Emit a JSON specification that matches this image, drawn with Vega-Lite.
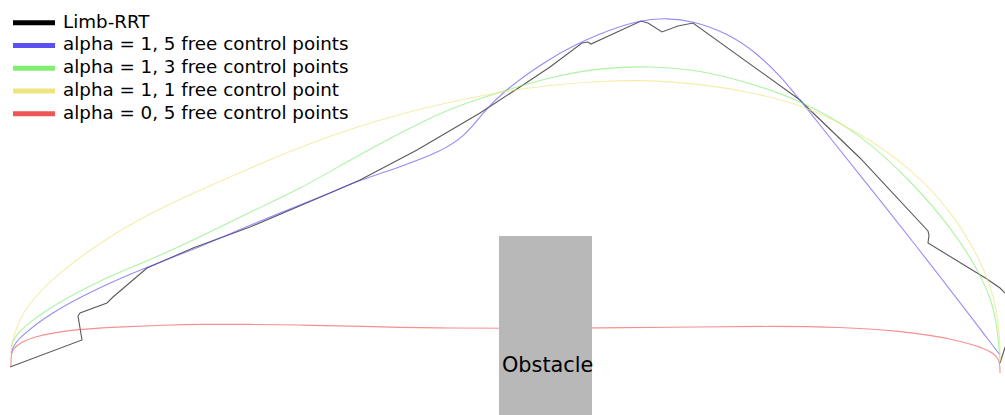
{
  "$schema": "https://vega.github.io/schema/vega-lite/v6.json",
  "width": 1005,
  "height": 415,
  "padding": 0,
  "autosize": {"type": "fit", "contains": "padding"},
  "background": "white",
  "config": {"view": {"stroke": null}},
  "datasets": {
    "rrt": [
      {"s": "Limb-RRT", "i": 0, "x": 10, "y": 367},
      {"s": "Limb-RRT", "i": 1, "x": 82, "y": 340},
      {"s": "Limb-RRT", "i": 2, "x": 78, "y": 316},
      {"s": "Limb-RRT", "i": 3, "x": 80, "y": 313},
      {"s": "Limb-RRT", "i": 4, "x": 107, "y": 303},
      {"s": "Limb-RRT", "i": 5, "x": 113, "y": 297},
      {"s": "Limb-RRT", "i": 6, "x": 147, "y": 268},
      {"s": "Limb-RRT", "i": 7, "x": 193, "y": 248},
      {"s": "Limb-RRT", "i": 8, "x": 250, "y": 227},
      {"s": "Limb-RRT", "i": 9, "x": 330, "y": 193},
      {"s": "Limb-RRT", "i": 10, "x": 360, "y": 180},
      {"s": "Limb-RRT", "i": 11, "x": 417, "y": 150},
      {"s": "Limb-RRT", "i": 12, "x": 480, "y": 113},
      {"s": "Limb-RRT", "i": 13, "x": 523, "y": 85},
      {"s": "Limb-RRT", "i": 14, "x": 550, "y": 67},
      {"s": "Limb-RRT", "i": 15, "x": 582, "y": 43},
      {"s": "Limb-RRT", "i": 16, "x": 588, "y": 42},
      {"s": "Limb-RRT", "i": 17, "x": 591, "y": 44},
      {"s": "Limb-RRT", "i": 18, "x": 641, "y": 21},
      {"s": "Limb-RRT", "i": 19, "x": 648, "y": 23},
      {"s": "Limb-RRT", "i": 20, "x": 662, "y": 32},
      {"s": "Limb-RRT", "i": 21, "x": 678, "y": 26},
      {"s": "Limb-RRT", "i": 22, "x": 693, "y": 23},
      {"s": "Limb-RRT", "i": 23, "x": 800, "y": 100},
      {"s": "Limb-RRT", "i": 24, "x": 810, "y": 110},
      {"s": "Limb-RRT", "i": 25, "x": 860, "y": 158},
      {"s": "Limb-RRT", "i": 26, "x": 928, "y": 231},
      {"s": "Limb-RRT", "i": 27, "x": 929, "y": 235},
      {"s": "Limb-RRT", "i": 28, "x": 928, "y": 243},
      {"s": "Limb-RRT", "i": 29, "x": 987, "y": 279},
      {"s": "Limb-RRT", "i": 30, "x": 1000, "y": 288},
      {"s": "Limb-RRT", "i": 31, "x": 1014, "y": 302},
      {"s": "Limb-RRT", "i": 32, "x": 1014, "y": 320},
      {"s": "Limb-RRT", "i": 33, "x": 1000, "y": 363}
    ],
    "curves": [
      {"s": "alpha = 1, 5 free control points", "i": 0, "x": 11, "y": 353},
      {"s": "alpha = 1, 5 free control points", "i": 1, "x": 14, "y": 345},
      {"s": "alpha = 1, 5 free control points", "i": 2, "x": 20, "y": 337},
      {"s": "alpha = 1, 5 free control points", "i": 3, "x": 50, "y": 313},
      {"s": "alpha = 1, 5 free control points", "i": 4, "x": 100, "y": 287},
      {"s": "alpha = 1, 5 free control points", "i": 5, "x": 147, "y": 267},
      {"s": "alpha = 1, 5 free control points", "i": 6, "x": 200, "y": 247},
      {"s": "alpha = 1, 5 free control points", "i": 7, "x": 250, "y": 225},
      {"s": "alpha = 1, 5 free control points", "i": 8, "x": 330, "y": 193},
      {"s": "alpha = 1, 5 free control points", "i": 9, "x": 360, "y": 180},
      {"s": "alpha = 1, 5 free control points", "i": 10, "x": 400, "y": 167},
      {"s": "alpha = 1, 5 free control points", "i": 11, "x": 440, "y": 152},
      {"s": "alpha = 1, 5 free control points", "i": 12, "x": 465, "y": 136},
      {"s": "alpha = 1, 5 free control points", "i": 13, "x": 483, "y": 113},
      {"s": "alpha = 1, 5 free control points", "i": 14, "x": 500, "y": 94},
      {"s": "alpha = 1, 5 free control points", "i": 15, "x": 550, "y": 57},
      {"s": "alpha = 1, 5 free control points", "i": 16, "x": 600, "y": 33},
      {"s": "alpha = 1, 5 free control points", "i": 17, "x": 640, "y": 20},
      {"s": "alpha = 1, 5 free control points", "i": 18, "x": 667, "y": 18},
      {"s": "alpha = 1, 5 free control points", "i": 19, "x": 693, "y": 21},
      {"s": "alpha = 1, 5 free control points", "i": 20, "x": 727, "y": 33},
      {"s": "alpha = 1, 5 free control points", "i": 21, "x": 757, "y": 53},
      {"s": "alpha = 1, 5 free control points", "i": 22, "x": 783, "y": 79},
      {"s": "alpha = 1, 5 free control points", "i": 23, "x": 800, "y": 100},
      {"s": "alpha = 1, 5 free control points", "i": 24, "x": 920, "y": 250},
      {"s": "alpha = 1, 5 free control points", "i": 25, "x": 1000, "y": 355},

      {"s": "alpha = 1, 3 free control points", "i": 0, "x": 11, "y": 347},
      {"s": "alpha = 1, 3 free control points", "i": 1, "x": 14, "y": 339},
      {"s": "alpha = 1, 3 free control points", "i": 2, "x": 20, "y": 330},
      {"s": "alpha = 1, 3 free control points", "i": 3, "x": 50, "y": 307},
      {"s": "alpha = 1, 3 free control points", "i": 4, "x": 100, "y": 280},
      {"s": "alpha = 1, 3 free control points", "i": 5, "x": 150, "y": 260},
      {"s": "alpha = 1, 3 free control points", "i": 6, "x": 200, "y": 237},
      {"s": "alpha = 1, 3 free control points", "i": 7, "x": 250, "y": 212},
      {"s": "alpha = 1, 3 free control points", "i": 8, "x": 300, "y": 189},
      {"s": "alpha = 1, 3 free control points", "i": 9, "x": 350, "y": 160},
      {"s": "alpha = 1, 3 free control points", "i": 10, "x": 400, "y": 133},
      {"s": "alpha = 1, 3 free control points", "i": 11, "x": 450, "y": 108},
      {"s": "alpha = 1, 3 free control points", "i": 12, "x": 500, "y": 92},
      {"s": "alpha = 1, 3 free control points", "i": 13, "x": 550, "y": 77},
      {"s": "alpha = 1, 3 free control points", "i": 14, "x": 600, "y": 68},
      {"s": "alpha = 1, 3 free control points", "i": 15, "x": 650, "y": 66},
      {"s": "alpha = 1, 3 free control points", "i": 16, "x": 700, "y": 70},
      {"s": "alpha = 1, 3 free control points", "i": 17, "x": 750, "y": 83},
      {"s": "alpha = 1, 3 free control points", "i": 18, "x": 800, "y": 100},
      {"s": "alpha = 1, 3 free control points", "i": 19, "x": 860, "y": 133},
      {"s": "alpha = 1, 3 free control points", "i": 20, "x": 913, "y": 183},
      {"s": "alpha = 1, 3 free control points", "i": 21, "x": 953, "y": 230},
      {"s": "alpha = 1, 3 free control points", "i": 22, "x": 980, "y": 273},
      {"s": "alpha = 1, 3 free control points", "i": 23, "x": 994, "y": 307},
      {"s": "alpha = 1, 3 free control points", "i": 24, "x": 998, "y": 335},
      {"s": "alpha = 1, 3 free control points", "i": 25, "x": 1000, "y": 360},

      {"s": "alpha = 1, 1 free control point", "i": 0, "x": 11, "y": 353},
      {"s": "alpha = 1, 1 free control point", "i": 1, "x": 12, "y": 345},
      {"s": "alpha = 1, 1 free control point", "i": 2, "x": 14, "y": 335},
      {"s": "alpha = 1, 1 free control point", "i": 3, "x": 20, "y": 319},
      {"s": "alpha = 1, 1 free control point", "i": 4, "x": 27, "y": 307},
      {"s": "alpha = 1, 1 free control point", "i": 5, "x": 50, "y": 280},
      {"s": "alpha = 1, 1 free control point", "i": 6, "x": 100, "y": 242},
      {"s": "alpha = 1, 1 free control point", "i": 7, "x": 150, "y": 213},
      {"s": "alpha = 1, 1 free control point", "i": 8, "x": 200, "y": 190},
      {"s": "alpha = 1, 1 free control point", "i": 9, "x": 250, "y": 168},
      {"s": "alpha = 1, 1 free control point", "i": 10, "x": 300, "y": 147},
      {"s": "alpha = 1, 1 free control point", "i": 11, "x": 350, "y": 129},
      {"s": "alpha = 1, 1 free control point", "i": 12, "x": 400, "y": 114},
      {"s": "alpha = 1, 1 free control point", "i": 13, "x": 450, "y": 102},
      {"s": "alpha = 1, 1 free control point", "i": 14, "x": 500, "y": 92},
      {"s": "alpha = 1, 1 free control point", "i": 15, "x": 550, "y": 85},
      {"s": "alpha = 1, 1 free control point", "i": 16, "x": 600, "y": 81},
      {"s": "alpha = 1, 1 free control point", "i": 17, "x": 650, "y": 80},
      {"s": "alpha = 1, 1 free control point", "i": 18, "x": 700, "y": 84},
      {"s": "alpha = 1, 1 free control point", "i": 19, "x": 750, "y": 92},
      {"s": "alpha = 1, 1 free control point", "i": 20, "x": 800, "y": 104},
      {"s": "alpha = 1, 1 free control point", "i": 21, "x": 860, "y": 132},
      {"s": "alpha = 1, 1 free control point", "i": 22, "x": 913, "y": 170},
      {"s": "alpha = 1, 1 free control point", "i": 23, "x": 953, "y": 213},
      {"s": "alpha = 1, 1 free control point", "i": 24, "x": 980, "y": 260},
      {"s": "alpha = 1, 1 free control point", "i": 25, "x": 990, "y": 285},
      {"s": "alpha = 1, 1 free control point", "i": 26, "x": 997, "y": 310},
      {"s": "alpha = 1, 1 free control point", "i": 27, "x": 1000, "y": 340},
      {"s": "alpha = 1, 1 free control point", "i": 28, "x": 1000, "y": 362},

      {"s": "alpha = 0, 5 free control points", "i": 0, "x": 11, "y": 367},
      {"s": "alpha = 0, 5 free control points", "i": 1, "x": 11, "y": 355},
      {"s": "alpha = 0, 5 free control points", "i": 2, "x": 13, "y": 349},
      {"s": "alpha = 0, 5 free control points", "i": 3, "x": 20, "y": 343},
      {"s": "alpha = 0, 5 free control points", "i": 4, "x": 33, "y": 337},
      {"s": "alpha = 0, 5 free control points", "i": 5, "x": 67, "y": 330},
      {"s": "alpha = 0, 5 free control points", "i": 6, "x": 117, "y": 327},
      {"s": "alpha = 0, 5 free control points", "i": 7, "x": 167, "y": 325},
      {"s": "alpha = 0, 5 free control points", "i": 8, "x": 200, "y": 324.3},
      {"s": "alpha = 0, 5 free control points", "i": 9, "x": 250, "y": 324.3},
      {"s": "alpha = 0, 5 free control points", "i": 10, "x": 300, "y": 325},
      {"s": "alpha = 0, 5 free control points", "i": 11, "x": 350, "y": 326},
      {"s": "alpha = 0, 5 free control points", "i": 12, "x": 400, "y": 327.5},
      {"s": "alpha = 0, 5 free control points", "i": 13, "x": 450, "y": 328},
      {"s": "alpha = 0, 5 free control points", "i": 14, "x": 500, "y": 328.3},
      {"s": "alpha = 0, 5 free control points", "i": 15, "x": 600, "y": 328},
      {"s": "alpha = 0, 5 free control points", "i": 16, "x": 700, "y": 327},
      {"s": "alpha = 0, 5 free control points", "i": 17, "x": 775, "y": 326},
      {"s": "alpha = 0, 5 free control points", "i": 18, "x": 840, "y": 327},
      {"s": "alpha = 0, 5 free control points", "i": 19, "x": 900, "y": 331},
      {"s": "alpha = 0, 5 free control points", "i": 20, "x": 934, "y": 336},
      {"s": "alpha = 0, 5 free control points", "i": 21, "x": 950, "y": 339},
      {"s": "alpha = 0, 5 free control points", "i": 22, "x": 970, "y": 344},
      {"s": "alpha = 0, 5 free control points", "i": 23, "x": 983, "y": 348},
      {"s": "alpha = 0, 5 free control points", "i": 24, "x": 993, "y": 353},
      {"s": "alpha = 0, 5 free control points", "i": 25, "x": 998, "y": 358},
      {"s": "alpha = 0, 5 free control points", "i": 26, "x": 1000, "y": 365},
      {"s": "alpha = 0, 5 free control points", "i": 27, "x": 1000, "y": 373}
    ],
    "obstacle": [
      {"x": 499, "x2": 592, "y": 236, "y2": 415, "label": "Obstacle"}
    ]
  },
  "layer": [
    {
      "data": {"name": "rrt"},
      "mark": {"type": "line", "strokeWidth": 1.1, "opacity": 0.65, "clip": true},
      "encoding": {
        "x": {"field": "x", "type": "quantitative", "scale": {"domain": [0, 1005], "nice": false, "zero": false}, "axis": null},
        "y": {"field": "y", "type": "quantitative", "scale": {"domain": [0, 415], "nice": false, "zero": false, "reverse": true}, "axis": null},
        "order": {"field": "i", "type": "quantitative"},
        "color": {
          "field": "s",
          "type": "nominal",
          "scale": {
            "domain": ["Limb-RRT", "alpha = 1, 5 free control points", "alpha = 1, 3 free control points", "alpha = 1, 1 free control point", "alpha = 0, 5 free control points"],
            "range": ["#000000", "#5b50f0", "#80ee70", "#eee480", "#ee5555"]
          },
          "legend": {
            "title": null,
            "orient": "none",
            "legendX": 10.5,
            "legendY": 12.7,
            "padding": 0,
            "symbolType": "stroke",
            "symbolSize": 1764,
            "symbolStrokeWidth": 5,
            "symbolOpacity": 1,
            "clipHeight": 20,
            "rowPadding": 2.75,
            "labelOffset": 5.5,
            "labelFont": "DejaVu Sans",
            "labelFontSize": 18.3,
            "labelColor": "#000000",
            "labelLimit": 500,
            "encode": {
              "symbols": {"update": {"opacity": {"value": 1}, "strokeOpacity": {"value": 1}}}
            }
          }
        }
      }
    },
    {
      "data": {"name": "curves"},
      "mark": {"type": "line", "strokeWidth": 1.1, "opacity": 0.65, "clip": true, "interpolate": "basis"},
      "encoding": {
        "x": {"field": "x", "type": "quantitative"},
        "y": {"field": "y", "type": "quantitative"},
        "order": {"field": "i", "type": "quantitative"},
        "color": {"field": "s", "type": "nominal"}
      }
    },
    {
      "data": {"name": "obstacle"},
      "mark": {"type": "rect", "color": "#b8b8b8"},
      "encoding": {
        "x": {"field": "x", "type": "quantitative"},
        "x2": {"field": "x2"},
        "y": {"field": "y", "type": "quantitative"},
        "y2": {"field": "y2"}
      }
    },
    {
      "data": {"name": "obstacle"},
      "mark": {"type": "text", "align": "left", "baseline": "alphabetic", "dx": 3, "dy": -43, "font": "DejaVu Sans", "fontSize": 20.8, "color": "#000000"},
      "encoding": {
        "x": {"field": "x", "type": "quantitative"},
        "y": {"field": "y2", "type": "quantitative"},
        "text": {"field": "label"}
      }
    }
  ]
}
